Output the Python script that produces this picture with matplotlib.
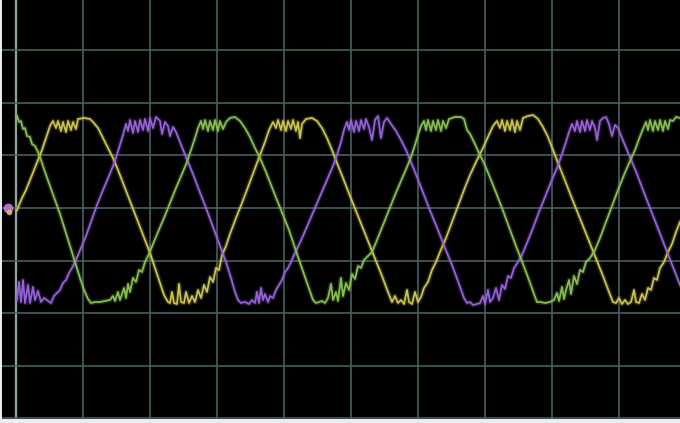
import numpy as np
import matplotlib
matplotlib.use("Agg")
import matplotlib.pyplot as plt

# Osciloscópio: 3 fases (amostras x nível ADC, centro = 0)
# tempo em amostras (67 amostras por divisão), nível em contagens (52.6 por divisão)

amarelo_t = [17, 22, 26, 30, 34, 38, 42, 46, 50, 53,
             56, 58, 61, 63, 66, 68, 71, 73, 76, 78, 84, 90, 93,
             98, 103, 108, 113, 118, 125, 135, 145, 150, 155, 160, 164, 168,
             170, 172, 174, 177, 179, 181, 184, 186, 189, 192, 195, 198, 201, 204, 207, 210,
             213, 216, 219, 222, 226, 230, 236, 242, 248, 254, 260, 265, 269, 273,
             276, 278, 281, 283, 286, 288, 291, 293, 296, 298, 300, 302, 306, 312, 317,
             322, 327, 332, 337, 343, 350, 358, 366, 374, 382, 388, 392,
             395, 398, 401, 404, 407, 409, 412, 415, 418, 421, 424,
             428, 432, 436, 440, 446, 452, 458, 464, 470, 476, 482, 488, 493, 497,
             500, 502, 505, 507, 510, 512, 515, 517, 520, 523, 528, 533, 538,
             543, 548, 553, 558, 564, 571, 579, 587, 595, 603, 609, 613,
             616, 619, 622, 625, 628, 631, 634, 636, 639, 642, 645, 648,
             651, 654, 657, 660, 664, 668, 672, 676, 680]
amarelo_v = [-2, 10, 18, 28, 38, 48, 58, 70, 82, 87,
             80, 87, 77, 86, 76, 87, 78, 86, 79, 89, 90, 89, 86,
             80, 70, 60, 50, 38, 20, -6, -32, -45, -60, -75, -87, -94,
             -95, -84, -95, -96, -76, -94, -95, -84, -95, -88, -94, -82, -90, -77, -84, -69,
             -74, -60, -62, -47, -38, -26, -10, 5, 21, 37, 53, 66, 78, 86,
             80, 88, 78, 87, 77, 87, 79, 88, 77, 86, 70, 84, 89, 90, 87,
             80, 70, 58, 45, 30, 12, -8, -28, -48, -68, -84, -94,
             -88, -95, -92, -96, -82, -94, -96, -84, -94, -89, -80,
             -74, -62, -54, -44, -30, -14, 2, 18, 33, 46, 58, 71, 82, 87,
             80, 88, 77, 87, 78, 88, 76, 87, 78, 90, 92, 93, 89,
             81, 71, 58, 45, 30, 12, -8, -28, -48, -68, -84, -94,
             -95, -90, -96, -92, -96, -94, -82, -94, -95, -86, -92, -80,
             -82, -70, -72, -60, -54, -44, -36, -24, -14]

roxo_t = [17, 19, 21, 23, 25, 28, 30, 33, 35, 38, 41, 44, 48, 51,
          54, 57, 60, 63, 66, 69, 72, 76, 81, 86, 91, 97, 103, 109, 115, 119, 123, 126,
          128, 130, 133, 135, 138, 140, 143, 145, 148, 150, 153, 156, 160, 162, 165, 168, 170, 173, 176,
          180, 184, 188, 193, 199, 206, 213, 220, 226, 231, 235, 238,
          241, 245, 249, 252, 255, 257, 259, 261, 263, 265, 268, 270, 273,
          276, 279, 282, 285, 288, 291, 294, 298, 303, 309, 315, 321, 327, 333, 337, 341, 344, 347,
          349, 351, 354, 356, 359, 361, 364, 366, 369, 372, 375, 378, 381, 384, 387, 391,
          396, 401, 406, 411, 417, 424, 431, 438, 445, 452, 459, 464, 467,
          470, 473, 477, 480, 483, 485, 488, 490, 493, 496, 499,
          502, 505, 508, 511, 514, 518, 522, 527, 533, 539, 545, 551, 557, 562, 566, 569, 572,
          575, 577, 580, 582, 585, 587, 590, 592, 595, 597, 600, 603, 606, 609, 612, 615, 618,
          622, 627, 632, 637, 643, 650, 657, 664, 671, 678, 680]
roxo_v = [-92, -74, -94, -72, -95, -77, -95, -79, -92, -83, -94, -90, -93, -95,
          -88, -85, -82, -75, -72, -65, -60, -52, -40, -28, -14, 3, 18, 32, 47, 60, 73, 84,
          77, 88, 75, 87, 76, 88, 78, 89, 77, 90, 80, 91, 87, 74, 86, 82, 72, 81, 76,
          66, 56, 46, 34, 18, 0, -19, -38, -54, -70, -84, -92,
          -95, -94, -96, -92, -95, -84, -95, -80, -92, -86, -94, -88, -90,
          -82, -77, -72, -64, -60, -54, -47, -39, -28, -14, 0, 14, 28, 42, 53, 66, 78, 86,
          78, 88, 76, 87, 77, 88, 79, 89, 81, 68, 88, 92, 70, 86, 90, 84,
          77, 68, 58, 46, 31, 13, -5, -22, -40, -57, -76, -90, -95,
          -94, -97, -96, -95, -88, -96, -82, -94, -90, -80, -92,
          -77, -81, -68, -70, -60, -54, -47, -35, -20, -4, 11, 26, 40, 54, 66, 76, 84,
          77, 87, 76, 87, 77, 88, 78, 87, 80, 68, 87, 90, 91, 84, 72, 83, 80,
          70, 58, 46, 34, 18, 0, -18, -36, -54, -72, -77]

verde_t = [17, 19, 21, 23, 25, 27, 30, 32, 35, 38, 41, 45, 50, 55, 60, 65, 70, 75, 80, 84, 88, 91,
           95, 100, 105, 110, 113, 115, 118, 120, 122, 124, 126, 128, 130,
           133, 136, 139, 142, 145, 149, 153, 158, 164, 170, 176, 182, 187, 191, 195, 198, 201,
           203, 205, 208, 210, 213, 215, 218, 220, 223, 226, 230, 235, 240,
           245, 250, 255, 260, 266, 273, 281, 289, 297, 304, 309, 313,
           316, 319, 322, 325, 328, 331, 333, 336, 338, 341, 343, 346,
           349, 352, 355, 358, 361, 364, 368, 372, 377, 383, 389, 395, 401, 407, 411, 415, 418, 421, 424,
           426, 428, 431, 433, 436, 438, 441, 443, 446, 449, 455, 461, 464, 467, 470,
           474, 479, 484, 489, 495, 502, 509, 516, 523, 529, 534, 537,
           540, 545, 550, 554, 557, 559, 562, 564, 566, 569, 571, 574,
           577, 580, 583, 586, 590, 595, 600, 606, 612, 618, 624, 630, 635, 639, 643, 646,
           648, 650, 653, 655, 658, 660, 663, 665, 668, 670, 673, 676, 680]
verde_v = [92, 86, 87, 79, 80, 72, 71, 64, 62, 56, 48, 36, 22, 8, -6, -22, -38, -54, -70, -82, -91, -95,
           -94, -94, -93, -92, -88, -93, -84, -92, -86, -80, -90, -76, -84,
           -70, -74, -62, -64, -54, -46, -36, -24, -10, 5, 20, 34, 46, 58, 70, 80, 87,
           79, 88, 77, 87, 78, 88, 77, 87, 79, 86, 90, 91, 87,
           80, 71, 60, 50, 36, 18, -2, -22, -46, -66, -80, -92,
           -95, -94, -93, -95, -90, -76, -92, -84, -93, -70, -88, -75,
           -82, -66, -71, -58, -60, -52, -48, -44, -32, -17, -2, 13, 27, 41, 51, 63, 73, 82, 87,
           78, 88, 77, 87, 78, 88, 77, 87, 80, 89, 91, 91, 89, 78, 74,
           66, 55, 45, 33, 18, 0, -19, -38, -56, -72, -86, -94,
           -94, -95, -94, -92, -85, -93, -79, -91, -82, -72, -86, -68,
           -76, -62, -64, -54, -50, -42, -30, -14, 2, 18, 33, 47, 58, 69, 79, 86,
           78, 88, 77, 87, 78, 88, 77, 87, 79, 88, 87, 91, 90]

cores = {"amarelo": "#c9c24c", "roxo": "#9560d8", "verde": "#86be4e"}

AMOSTRAS_DIV = 67
CONTAGENS_DIV = 52.6
ORIGEM = 16

fig = plt.figure(figsize=(6.8, 4.23), dpi=100, facecolor="#e9eded")
ax = fig.add_axes([1.5 / 680, 4 / 423, 678.5 / 680, 419 / 423])
ax.set_facecolor("black")
ax.set_xlim(1.5, 680)
ax.set_ylim(-211, 208)

# grade do osciloscópio
for k in range(10):
    ax.axvline(ORIGEM + k * AMOSTRAS_DIV, color="#46605f" if k else "#8ea5a5", lw=1.2 if k else 1.6, zorder=1)
for k in range(-4, 4):
    ax.axhline(k * CONTAGENS_DIV, color="#46605f", lw=1.2, zorder=1)

# marcadores de referência dos canais
ax.plot([8], [0], "o", color="#c27acb", ms=6, alpha=0.9, zorder=2)
ax.plot([9], [-4], "o", color="#d8c860", ms=3, alpha=0.8, zorder=2)

for nome, t, v in [("amarelo", amarelo_t, amarelo_v),
                   ("roxo", roxo_t, roxo_v),
                   ("verde", verde_t, verde_v)]:
    ax.plot(t, v, color=cores[nome], lw=3.4, alpha=0.22, zorder=3, solid_joinstyle="round")
    ax.plot(t, v, color=cores[nome], lw=1.3, zorder=4, solid_joinstyle="round")

ax.set_xticks([])
ax.set_yticks([])
for s in ax.spines.values():
    s.set_visible(False)

fig.savefig("out.png", dpi=100, facecolor=fig.get_facecolor())
